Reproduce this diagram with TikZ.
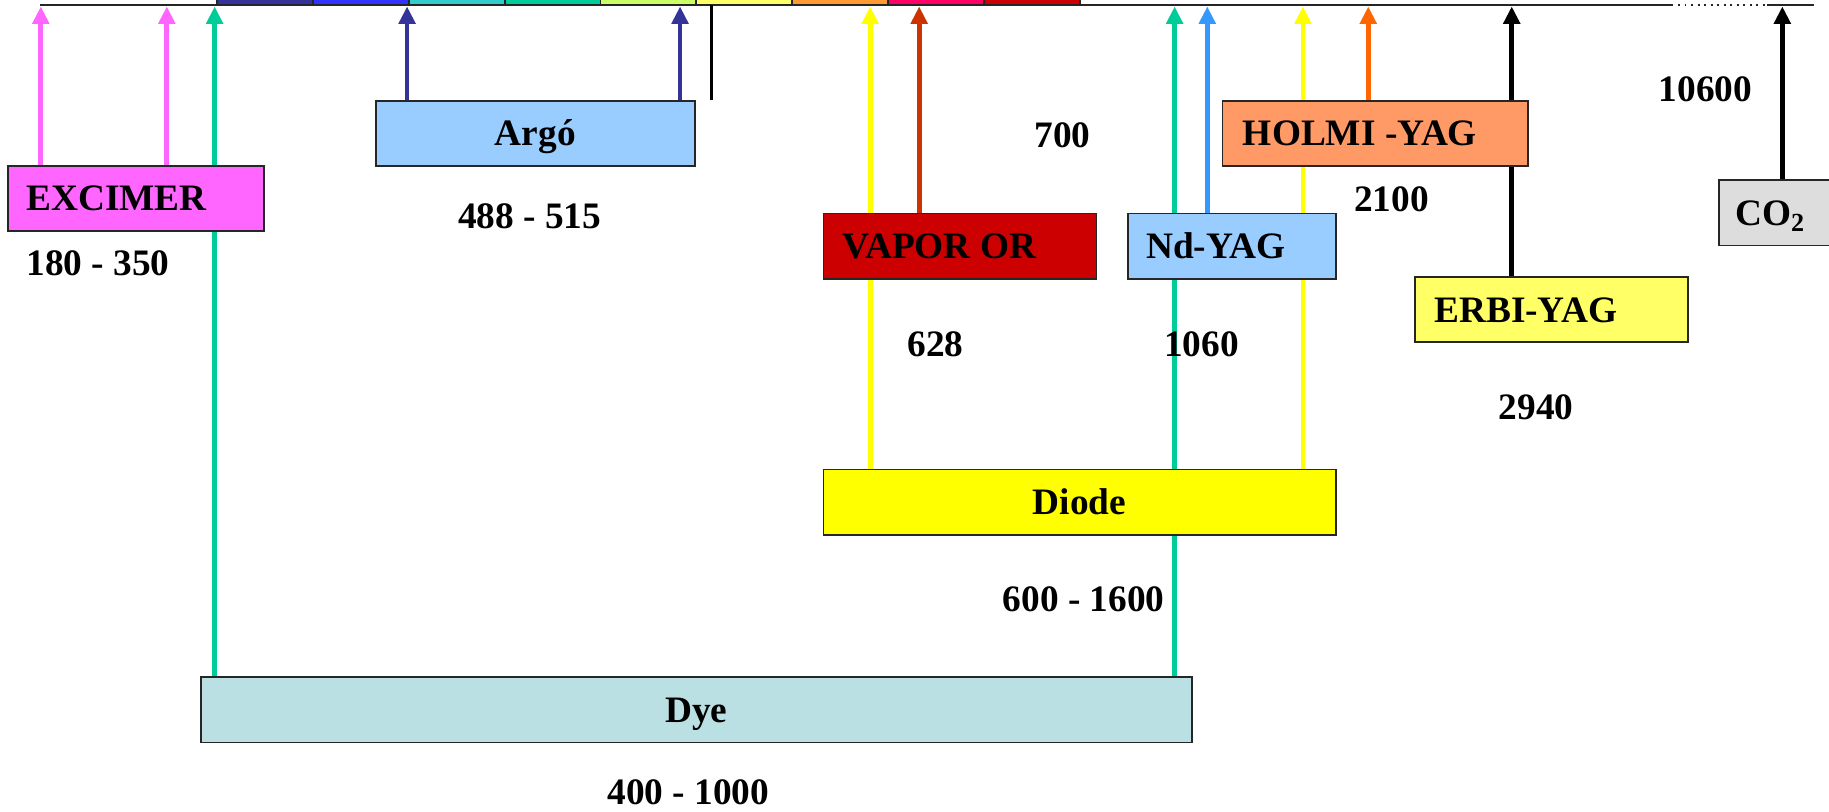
\documentclass[tikz,border=0pt]{standalone}
\usepackage{fontspec}
\setmainfont{Liberation Serif}
\usetikzlibrary{arrows.meta,backgrounds}
\definecolor{cpink}{HTML}{FF66FF}
\definecolor{cgreen}{HTML}{00CC99}
\definecolor{cnavy}{HTML}{333399}
\definecolor{cyel}{HTML}{FFFF00}
\definecolor{cvap}{HTML}{CC3300}
\definecolor{cblue}{HTML}{3399FF}
\definecolor{corange}{HTML}{FF6600}
\definecolor{fsky}{HTML}{99CCFF}
\definecolor{fred}{HTML}{CC0000}
\definecolor{fsalmon}{HTML}{FF9966}
\definecolor{flyel}{HTML}{FFFF66}
\definecolor{fgrey}{HTML}{DDDDDD}
\definecolor{fdye}{HTML}{BBE0E3}
\definecolor{s1}{HTML}{333399}
\definecolor{s2}{HTML}{3333FF}
\definecolor{s3}{HTML}{33CCCC}
\definecolor{s4}{HTML}{00CC99}
\definecolor{s5}{HTML}{CCFF66}
\definecolor{s6}{HTML}{FFFF66}
\definecolor{s7}{HTML}{FF9933}
\definecolor{s8}{HTML}{FF0066}
\definecolor{s9}{HTML}{CC0000}
\begin{document}
\begin{tikzpicture}[x=0.5pt,y=-0.5pt,
  boxst/.style={draw=black!85, line width=0.8pt, inner sep=0pt, minimum height=28pt, anchor=center},
  txt/.style={font=\fontsize{16}{19}\selectfont\bfseries, inner sep=0pt, text height=10.6pt, text depth=0pt},
  arr/.style={line width=2pt, -{Triangle[length=7.5pt,width=7pt]}},
  axisline/.style={line width=0.9pt, draw=black!85}
]
\useasboundingbox (0,0) rectangle (1568,696);
\begin{scope}
\clip (0,0) rectangle (1568,696);
% colour strip
\foreach \c [count=\i from 0] in {s1,s2,s3,s4,s5,s6,s7,s8,s9}{
  \draw[fill=\c, draw=black!85, line width=0.8pt] ({186+82.2*\i},-10) rectangle ({186+82.2*(\i+1)},4.5);
}
% top axis
\coordinate (L0) at (34,4.5);
\coordinate (L1) at (1433,4.5);
\coordinate (L2) at (1515,4.5);
\coordinate (L3) at (1555,4.5);
\draw[axisline] (L0) -- (L1);
\draw[axisline, line width=0.8pt, dotted] (L1) -- (L2);
\draw[axisline] (L2) -- (L3);
\coordinate (V0) at (610,4.5);
\coordinate (V1) at (610,86);
\draw[line width=0.9pt] (V0) -- (V1);
% arrow targets
\coordinate (t1) at (35,5.5);
\coordinate (t2) at (143,5.5);
\coordinate (t3) at (184,5.5);
\coordinate (t4) at (349,5.5);
\coordinate (t5) at (583,5.5);
\coordinate (t6) at (746,5.5);
\coordinate (t7) at (788,5.5);
\coordinate (t8) at (1007,5.5);
\coordinate (t9) at (1035,5.5);
\coordinate (t10) at (1117,5.5);
\coordinate (t11) at (1173,5.5);
\coordinate (t12) at (1296,5.5);
\coordinate (t13) at (1528,5.5);
% boxes
\path (116.5,170) node[boxst, fill=cpink, minimum width=109.5pt] (exc) {};
\path (459,114.5) node[boxst, fill=fsky, minimum width=137pt] (argo) {};
\path (823,211) node[boxst, fill=fred, minimum width=117pt] (vap) {};
\path (1056,211) node[boxst, fill=fsky, minimum width=89pt] (nd) {};
\path (1179,114.5) node[boxst, fill=fsalmon, minimum width=131pt] (hol) {};
\path (1330,265.5) node[boxst, fill=flyel, minimum width=117pt] (erb) {};
\path (1527,182.5) node[boxst, fill=fgrey, minimum width=53pt] (co) {};
\path (925.5,430.5) node[boxst, fill=cyel, minimum width=219.5pt] (dio) {};
\path (597,608.5) node[boxst, fill=fdye, minimum width=425pt] (dye) {};
% box texts
\node[txt, anchor=west] (excT) at ([xshift=8pt]exc.west) {EXCIMER};
\node[txt] (argoT) at (argo.center) {Argó};
\node[txt, anchor=west] (vapT) at ([xshift=8.5pt]vap.west) {VAPOR OR};
\node[txt, anchor=west] (ndT) at ([xshift=8pt]nd.west) {Nd-YAG};
\node[txt, anchor=west] (holT) at ([xshift=9pt]hol.west) {HOLMI -YAG};
\node[txt, anchor=west] (erbT) at ([xshift=8.5pt]erb.west) {ERBI-YAG};
\node[txt, anchor=west] (coT) at ([xshift=7pt]co.west) {CO\textsubscript{2}};
\node[txt] (dioT) at (dio.center) {Diode};
\node[txt] (dyeT) at (dye.center) {Dye};
% wavelength labels
\node[txt] (l1) at (84,226) {180 - 350};
\node[txt] (l2) at (454,185) {488 - 515};
\node[txt] (l3) at (911,116) {700};
\node[txt] (l4) at (802,295) {628};
\node[txt] (l5) at (1030,295) {1060};
\node[txt] (l6) at (1193,171) {2100};
\node[txt] (l7) at (1462,76) {10600};
\node[txt] (l8) at (1317,349) {2940};
\node[txt] (l9) at (929,514) {600 - 1600};
\node[txt] (l10) at (590,679) {400 - 1000};
\end{scope}
% arrows behind the boxes
\begin{pgfonlayer}{background}
\draw[arr, cpink] (exc.north -| t1) -- (t1);
\draw[arr, cpink] (exc.north -| t2) -- (t2);
\draw[arr, cgreen] (dye.north -| t3) -- (t3);
\draw[arr, cnavy] (argo.north -| t4) -- (t4);
\draw[arr, cnavy] (argo.north -| t5) -- (t5);
\draw[arr, cyel] (dio.north -| t6) -- (t6);
\draw[arr, cvap] (vap.north -| t7) -- (t7);
\draw[arr, cgreen] (dye.north -| t8) -- (t8);
\draw[arr, cblue] (nd.north -| t9) -- (t9);
\draw[arr, cyel] (dio.north -| t10) -- (t10);
\draw[arr, corange] (hol.north -| t11) -- (t11);
\draw[arr, black] (erb.north -| t12) -- (t12);
\draw[arr, black] (co.north -| t13) -- (t13);
\end{pgfonlayer}
\end{tikzpicture}
\end{document}
